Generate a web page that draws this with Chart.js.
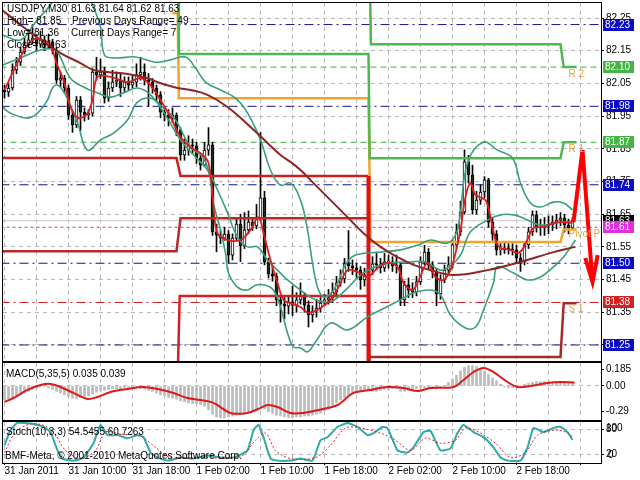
<!DOCTYPE html>
<html>
<head>
<meta charset="utf-8">
<title>USDJPY,M30</title>
<script src="https://cdn.jsdelivr.net/npm/chart.js@4.4.1/dist/chart.umd.min.js"></script>
<style>
  html, body { margin: 0; padding: 0; background: #fff; }
  #wrap { position: relative; width: 640px; height: 480px; overflow: hidden; }
  canvas { position: absolute; left: 0; }
  #priceChart { top: 0; }
  #macdChart { top: 362px; }
  #stochChart { top: 421px; }
</style>
</head>
<body>
<div id="wrap">
  <canvas id="priceChart" width="640" height="363"></canvas>
  <canvas id="macdChart" width="640" height="60"></canvas>
  <canvas id="stochChart" width="640" height="59"></canvas>
</div>
<script>
Chart.defaults.font.family = '"Liberation Sans", Arial, sans-serif';
Chart.defaults.font.size = 10;
Chart.defaults.color = '#000';

// ---- data (bar index = one 30 minute candle) ----
const timeLabels = ['31 Jan 2011', '31 Jan 10:00', '31 Jan 18:00', '1 Feb 02:00', '1 Feb 10:00',
  '1 Feb 18:00', '2 Feb 02:00', '2 Feb 10:00', '2 Feb 18:00'];
const xGrid = [0, 8, 16, 24, 32, 40, 48, 56, 64, 72, 80, 88, 96, 104, 112, 120, 128, 136, 144];
const priceTicks = [82.25, 82.15, 82.05, 81.95, 81.85, 81.75, 81.65, 81.55, 81.45, 81.35, 81.25];

const opens = [82.030,82.024,82.036,82.091,82.115,82.146,82.167,82.183,82.189,82.170,
  82.183,82.167,82.177,82.152,82.060,82.066,82.036,81.953,81.923,81.999,
  81.962,81.953,81.959,82.085,82.076,82.085,82.005,82.036,82.054,82.060,
  82.036,82.054,82.045,82.054,82.076,82.085,82.060,82.054,82.036,82.015,
  81.962,81.953,81.944,81.953,81.908,81.831,81.846,81.862,81.859,81.822,
  81.800,81.846,81.862,81.596,81.586,81.577,81.589,81.525,81.577,81.620,
  81.553,81.602,81.626,81.614,81.638,81.700,81.504,81.467,81.461,81.388,
  81.375,81.369,81.382,81.372,81.388,81.403,81.372,81.342,81.354,81.363,
  81.378,81.388,81.394,81.412,81.440,81.452,81.498,81.492,81.486,81.479,
  81.449,81.464,81.479,81.498,81.495,81.486,81.504,81.504,81.492,81.495,
  81.388,81.434,81.418,81.412,81.443,81.504,81.534,81.495,81.473,81.406,
  81.449,81.479,81.495,81.556,81.596,81.657,81.810,81.770,81.663,81.693,
  81.718,81.755,81.626,81.589,81.541,81.541,81.547,81.544,81.541,81.516,
  81.504,81.556,81.596,81.648,81.608,81.608,81.614,81.617,81.626,81.632,
  81.638,81.617,81.608];
const highs = [82.045,82.050,82.110,82.130,82.160,82.190,82.215,82.230,82.200,82.210,
  82.195,82.200,82.185,82.160,82.085,82.075,82.045,81.965,82.010,82.010,
  81.975,81.970,82.095,82.130,82.125,82.100,82.055,82.090,82.085,82.080,
  82.070,82.070,82.075,82.110,82.130,82.110,82.080,82.065,82.045,82.025,
  81.980,81.970,81.975,81.960,81.915,81.880,81.890,81.880,81.870,81.830,
  81.870,81.915,81.870,81.620,81.600,81.610,81.600,81.590,81.640,81.650,
  81.655,81.660,81.640,81.680,81.900,81.720,81.515,81.490,81.470,81.400,
  81.395,81.400,81.430,81.410,81.440,81.410,81.385,81.370,81.390,81.395,
  81.405,81.420,81.440,81.460,81.480,81.515,81.600,81.510,81.500,81.490,
  81.485,81.500,81.520,81.530,81.515,81.530,81.525,81.520,81.525,81.500,
  81.445,81.455,81.440,81.460,81.520,81.555,81.545,81.505,81.485,81.465,
  81.495,81.520,81.570,81.620,81.690,81.847,81.830,81.800,81.720,81.740,
  81.765,81.760,81.640,81.600,81.560,81.565,81.560,81.560,81.555,81.530,
  81.565,81.610,81.660,81.660,81.635,81.640,81.645,81.645,81.650,81.655,
  81.650,81.635,81.640];
const lows = [82.005,82.010,82.030,82.080,82.105,82.140,82.160,82.170,82.150,82.160,
  82.150,82.155,82.140,82.050,82.040,82.020,81.940,81.900,81.915,81.905,
  81.935,81.940,81.950,82.060,82.065,81.990,81.995,82.025,82.040,82.010,
  82.025,82.030,82.035,82.040,82.060,82.045,81.980,82.020,81.995,81.945,
  81.935,81.920,81.930,81.890,81.815,81.815,81.830,81.835,81.805,81.785,
  81.795,81.830,81.585,81.535,81.560,81.570,81.500,81.510,81.570,81.505,
  81.545,81.590,81.600,81.605,81.630,81.495,81.455,81.445,81.370,81.320,
  81.330,81.345,81.340,81.350,81.375,81.350,81.305,81.320,81.335,81.350,
  81.370,81.375,81.380,81.400,81.430,81.440,81.475,81.465,81.455,81.420,
  81.430,81.450,81.465,81.480,81.470,81.475,81.485,81.475,81.470,81.370,
  81.370,81.395,81.395,81.400,81.435,81.495,81.480,81.455,81.370,81.390,
  81.440,81.470,81.485,81.545,81.585,81.650,81.745,81.650,81.650,81.680,
  81.700,81.610,81.570,81.525,81.525,81.530,81.528,81.525,81.500,81.475,
  81.495,81.545,81.585,81.595,81.585,81.585,81.590,81.600,81.605,81.615,
  81.595,81.590,81.605];
const closes = [82.024,82.036,82.091,82.115,82.146,82.167,82.183,82.189,82.170,82.183,
  82.167,82.177,82.152,82.060,82.066,82.036,81.953,81.923,81.999,81.962,
  81.953,81.959,82.085,82.076,82.085,82.005,82.036,82.054,82.060,82.036,
  82.054,82.045,82.054,82.076,82.085,82.060,82.054,82.036,82.015,81.962,
  81.953,81.944,81.953,81.908,81.831,81.846,81.862,81.859,81.822,81.800,
  81.846,81.862,81.596,81.586,81.577,81.589,81.525,81.577,81.620,81.553,
  81.602,81.626,81.614,81.638,81.700,81.504,81.467,81.461,81.388,81.375,
  81.369,81.382,81.372,81.388,81.403,81.372,81.342,81.354,81.363,81.378,
  81.388,81.394,81.412,81.440,81.452,81.498,81.492,81.486,81.479,81.449,
  81.464,81.479,81.498,81.495,81.486,81.504,81.504,81.492,81.495,81.388,
  81.434,81.418,81.412,81.443,81.504,81.534,81.495,81.473,81.406,81.449,
  81.479,81.495,81.556,81.596,81.657,81.810,81.770,81.663,81.693,81.718,
  81.755,81.626,81.589,81.541,81.541,81.547,81.544,81.541,81.516,81.504,
  81.556,81.596,81.648,81.608,81.608,81.614,81.617,81.626,81.632,81.638,
  81.617,81.608,81.632];

// moving averages and bollinger bands, [bar, price]
const fastMA = [[0,82.030],[4,82.131],[7,82.183],[11,82.174],[13,82.112],[15,82.051],[16.5,81.978],
  [18.5,81.944],[20.75,81.959],[22,81.999],[23.25,82.070],[26.5,82.070],[30.75,82.054],[34,82.066],
  [36.5,82.045],[39,81.999],[41.5,81.947],[44,81.886],[46.5,81.855],[49,81.837],[51,81.807],
  [52.25,81.672],[53.25,81.592],[55.75,81.571],[59,81.571],[61.5,81.602],[63.5,81.641],[64.75,81.592],
  [66.5,81.510],[68.25,81.440],[69.75,81.388],[71.5,81.378],[74,81.366],[76,81.348],[79,81.363],
  [81.5,81.388],[83.5,81.427],[85.75,81.479],[88.25,81.473],[90.75,81.458],[93.25,81.485],
  [95.75,81.501],[98.25,81.489],[99.75,81.440],[102,81.418],[103.25,81.440],[105.75,81.501],
  [107.75,81.458],[109.75,81.449],[111.5,81.479],[112.75,81.531],[114,81.602],[115.25,81.703],
  [116.5,81.745],[117.75,81.709],[120.25,81.693],[121.5,81.641],[122.75,81.571],[124,81.547],
  [126.5,81.541],[128.25,81.531],[129.75,81.547],[131,81.580],[132.25,81.608],[134.75,81.611],
  [137.25,81.623],[139.75,81.626],[142,81.623]];
const slowMA = [[-0.5,82.274],[4,82.229],[9,82.183],[14,82.143],[19,82.112],[22.25,82.091],[25.75,82.085],
  [30.75,82.079],[35.75,82.066],[38.25,82.054],[43.25,82.036],[46.5,82.030],[50.75,82.015],
  [55.75,81.978],[61.5,81.917],[65.75,81.868],[69,81.831],[71.5,81.810],[74,81.785],[77.25,81.745],
  [81.5,81.693],[85.75,81.641],[89.75,81.592],[94,81.550],[98.25,81.519],[102.25,81.495],
  [106.5,81.479],[112.25,81.464],[120.75,81.479],[129,81.504],[137.25,81.534],[142.75,81.550]];
const bandUpper = [[-0.5,82.198],[4,82.183],[7.75,82.238],[11.5,82.290],[14,82.336],[20.25,82.336],
  [22,82.290],[24,82.222],[25,82.137],[27.75,82.128],[32.75,82.131],[37.75,82.115],[41.5,82.122],
  [45.25,82.131],[47.75,82.097],[50.25,82.054],[54,82.030],[57.75,82.005],[60.75,81.960],[64,81.877],
  [66.5,81.785],[69,81.739],[71.5,81.745],[74,81.693],[75.75,81.602],[77,81.501],[78.5,81.418],
  [80.25,81.397],[82.75,81.427],[85.25,81.495],[87.75,81.525],[94,81.534],[99,81.541],[103.5,81.556],
  [106.5,81.571],[110.75,81.562],[113.25,81.602],[115.75,81.807],[119.75,81.871],[123.25,81.846],
  [127,81.822],[129,81.745],[131.5,81.684],[134,81.672],[137.25,81.687],[139.75,81.684],[142,81.663]];
const bandMiddle = [[-0.5,82.106],[4,82.128],[9,82.152],[12.75,82.152],[16.5,82.066],[20.25,82.036],
  [23.25,82.021],[26.5,82.008],[29.75,82.021],[33.25,82.036],[36.5,82.015],[40.25,81.953],[44,81.877],
  [47.75,81.825],[50.75,81.785],[53.25,81.724],[55.75,81.654],[58.25,81.580],[60.75,81.550],
  [63.25,81.550],[65.75,81.510],[68.25,81.479],[70.75,81.449],[74,81.418],[77.75,81.388],[81.5,81.382],
  [85.25,81.418],[89,81.464],[92.75,81.489],[96.5,81.501],[101.5,81.504],[105.25,81.504],[109,81.479],
  [111.5,81.492],[114,81.525],[116.5,81.596],[120.75,81.632],[124,81.648],[127.25,81.648],
  [129.75,81.638],[134,81.617],[139,81.626],[142,81.626]];
const bandLower = [[-0.5,81.978],[1.5,81.959],[5.75,81.944],[8.25,81.959],[10.75,81.999],[12,82.036],
  [13.25,82.045],[15.25,82.015],[18.25,81.929],[20.75,81.846],[24,81.877],[27.25,81.898],[30.75,81.938],
  [33.25,81.993],[36.5,82.005],[39,81.984],[42.75,81.938],[46.5,81.855],[49.75,81.822],[51.5,81.755],
  [52.25,81.684],[54,81.602],[55.25,81.531],[56,81.470],[58.25,81.427],[60.75,81.418],[62.75,81.433],
  [65.25,81.433],[67.25,81.418],[69,81.366],[70.75,81.287],[72.25,81.244],[74,81.241],[75.75,81.229],
  [77.75,81.259],[81.5,81.317],[85.75,81.296],[90.75,81.336],[94,81.357],[99,81.388],[102.25,81.409],
  [106.5,81.418],[109,81.403],[111.5,81.342],[115.25,81.302],[117.75,81.305],[119.75,81.357],
  [122.25,81.440],[123.25,81.489],[127.25,81.470],[130.75,81.449],[134,81.458],[137.25,81.489],
  [139.75,81.519],[142.75,81.571]];

// daily pivot steps, [bar, price]
const pivotR2 = [[91.3,82.40],[91.6,82.170],[139,82.170],[139.8,82.100],[143,82.100]];
const pivotR1 = [[43.4,82.40],[43.6,82.140],[91,82.140],[91.3,81.821],[139,81.821],[139.8,81.870],[143,81.870]];
const pivotP = [[42,82.265],[43.3,82.265],[43.6,82.005],[91,82.005],[91.5,81.565],[139,81.565],[139.8,81.603],[143,81.603]];
const pivotS1 = [[-1,81.822],[43,81.822],[44,81.767],[91,81.767]];
const pivotS2 = [[-1,81.537],[43,81.537],[44,81.638],[91,81.638],[91.2,81.15]];
const pivotS3 = [[43.3,81.15],[43.8,81.400],[91,81.400],[91.2,81.15]];
const pivotS1New = [[91,81.767],[91,81.15]];
const pivotS1Next = [[91.3,81.213],[139,81.213],[139.8,81.378],[143,81.378]];

// horizontal levels
const blueLevels = [82.23, 81.98, 81.74, 81.50, 81.25];
const greenLevels = [82.10, 81.87];
const pivotLevels = [81.61];
const supportLevels = [81.38];
const bidPrice = 81.63;
const levelNames = ['R 2', 'R 1', 'Pivot P', 'S 1'];
const levelNameValues = [82.10, 81.87, 81.61, 81.38];

// hand-drawn forecast arrow, [bar, price]
const arrowPath = [[142.25,81.626],[144.5,81.846],[147,81.443]];
const arrowHead = [[145.2,81.516],[147,81.443],[148.3,81.525]];

// MACD(5,35,5)
const macdHist = [-0.16,-0.15,-0.14,-0.12,-0.10,-0.08,-0.06,-0.04,-0.02,-0.01,
  -0.01,-0.02,-0.04,-0.06,-0.08,-0.10,-0.12,-0.14,-0.14,-0.13,
  -0.12,-0.11,-0.09,-0.07,-0.06,-0.05,-0.04,-0.03,-0.03,-0.03,
  -0.02,-0.02,-0.02,-0.02,-0.03,-0.04,-0.05,-0.06,-0.08,-0.10,
  -0.11,-0.13,-0.14,-0.15,-0.17,-0.18,-0.19,-0.20,-0.20,-0.21,
  -0.23,-0.27,-0.32,-0.35,-0.36,-0.36,-0.35,-0.34,-0.33,-0.32,
  -0.31,-0.30,-0.28,-0.26,-0.22,-0.26,-0.29,-0.31,-0.33,-0.34,
  -0.35,-0.36,-0.36,-0.35,-0.35,-0.34,-0.34,-0.33,-0.32,-0.31,
  -0.28,-0.25,-0.22,-0.19,-0.16,-0.13,-0.10,-0.08,-0.07,-0.06,
  -0.05,-0.05,-0.06,-0.06,-0.05,-0.04,-0.04,-0.03,-0.03,-0.06,
  -0.06,-0.05,-0.04,-0.03,-0.02,-0.02,-0.02,-0.03,-0.03,-0.02,
  0.00,0.04,0.08,0.12,0.17,0.21,0.23,0.23,0.22,0.20,
  0.17,0.13,0.09,0.06,0.02,-0.01,-0.02,-0.02,-0.01,0.00,
  0.02,0.03,0.04,0.05,0.05,0.05,0.05,0.04,0.04,0.04,
  0.04,0.035,0.035];
const macdSignal = [[0,-0.181],[2.25,-0.136],[5.75,-0.045],[9,0.011],[11.5,0.023],[14,-0.011],
  [17.25,-0.079],[20.75,-0.147],[23.25,-0.124],[26.5,-0.068],[30.75,-0.034],[34.75,-0.011],
  [38.25,-0.034],[42.25,-0.079],[45.75,-0.136],[49,-0.158],[52.25,-0.192],[56.5,-0.305],
  [60.75,-0.305],[64,-0.249],[65.75,-0.215],[68.25,-0.238],[71.5,-0.305],[74.75,-0.305],
  [78.5,-0.271],[83.25,-0.215],[87.25,-0.079],[91.5,-0.045],[95.75,-0.011],[99.75,-0.023],
  [103.25,-0.057],[106.5,-0.023],[112.25,-0.011],[114.75,0.068],[117.25,0.158],[119.75,0.204],
  [122.25,0.158],[125.75,0.045],[128.25,-0.011],[131.5,0.000],[135.75,0.034],[139,0.045],[142.5,0.039]];
const macdTicks = [0.185, 0, -0.29];

// Stochastic(10,3,3)
const stochMain = [[0,41.6],[1.5,77.6],[3.25,94.4],[7.25,92],[9.75,84.8],[11.5,72.8],[13.25,29.6],
  [14.5,10.4],[17.25,5.6],[19.75,12.8],[22.25,46.4],[24,89.6],[25.75,65.6],[28.25,65.6],[30.75,58.4],
  [33.25,65.6],[34.75,60.8],[36.5,24.8],[38.25,12.8],[40.75,5.6],[44,12.8],[47.25,10.4],[50.75,17.6],
  [54,12.8],[57.25,12.8],[60.75,29.6],[62.25,77.6],[63.5,89.6],[64.75,60.8],[66.5,10.4],[68.25,5.6],
  [71.5,5.6],[74,10.4],[77,5.6],[79,53.6],[80.75,60.8],[83.25,84.8],[85.75,94.4],[88.25,84.8],
  [90.75,65.6],[92.25,70.4],[94.5,84.8],[95.75,82.4],[98.25,29.6],[100.75,24.8],[102.25,36.8],
  [104.75,72.8],[106.5,75.2],[109,29.6],[111.5,34.4],[113.25,70.4],[114.75,89.6],[117.25,72.8],
  [119.75,60.8],[122.25,36.8],[124,12.8],[125.75,5.6],[129,5.6],[130.75,36.8],[132.25,82.4],
  [134.75,72.8],[137.25,82.4],[139,84.8],[140.75,72.8],[142,54.5]];
const stochSignal = [[0,24.8],[2.75,72.8],[6.5,92],[10.25,87],[12.75,65.6],[15.25,29.6],[19,10.4],
  [22.75,29.6],[25.25,72.8],[29,68],[34,63],[37.75,36.8],[41.5,12.8],[49,12.8],[59,15],[62.75,53.6],
  [65.25,70.4],[67.75,29.6],[71.5,10.4],[77.75,12.8],[81.5,41.6],[85.25,82.4],[89,82.4],[94,70.4],
  [97.75,53.6],[101.5,29.6],[105.25,58.4],[109,46.4],[112.75,53.6],[115.25,82.4],[119,70.4],
  [122.75,46.4],[126.5,12.8],[130.25,24.8],[133.25,65.6],[137.75,77.6],[141,70.4],[142,60.7]];
const stochTicks = [80, 20];

// ---- helpers ----
const FONT = '10px "Liberation Sans", Arial, sans-serif';
const GRID = '#b9b9b9';
const DASH = [4, 4];
const xy = list => list.map(([x, y]) => ({x, y}));
const lineSet = (list, color, width, extra) => Object.assign({
  type: 'line', data: xy(list), borderColor: color, borderWidth: width,
  pointRadius: 0, tension: 0, fill: false
}, extra || {});
const levelSet = (value, color, dash, width) => ({
  type: 'line', data: [{x: -1, y: value}, {x: 150, y: value}], borderColor: color,
  borderWidth: width || 1, borderDash: dash, pointRadius: 0, fill: false
});
const useTicks = list => scale => { scale.ticks = list.map(v => ({value: v})); };
const fitRight = scale => { scale.width = 39; scale.paddingTop = 0; scale.paddingBottom = 0; };

const xScale = (showLabels) => ({
  type: 'linear', min: -0.375, max: 149.125, offset: false,
  afterBuildTicks: useTicks(xGrid),
  afterFit: s => { s.height = showLabels ? 17 : 0; s.paddingLeft = 0; s.paddingRight = 0; },
  ticks: {
    display: showLabels, autoSkip: false, maxRotation: 0, minRotation: 0, align: 'start', padding: 0,
    callback: v => (v % 16 === 0 && timeLabels[v / 16]) ? timeLabels[v / 16] : ''
  },
  grid: {
    color: GRID, offset: false, drawTicks: showLabels, tickLength: 2,
    tickColor: c => (c.tick && c.tick.value % 16 === 0) ? '#000' : 'rgba(0,0,0,0)'
  },
  border: {display: false, dash: DASH}
});

const frame = {
  id: 'frame',
  afterDraw(chart) {
    const {ctx, chartArea: a} = chart;
    ctx.save();
    ctx.strokeStyle = '#000';
    ctx.lineWidth = 1;
    ctx.strokeRect(Math.round(a.left) - 0.5, Math.round(a.top) - 0.5,
      Math.round(a.right - a.left) + 1, Math.round(a.bottom - a.top) + 1);
    ctx.restore();
  }
};

const notes = (items) => ({
  id: 'notes',
  afterDraw(chart) {
    const ctx = chart.ctx;
    ctx.save();
    ctx.font = FONT;
    ctx.textBaseline = 'middle';
    items.forEach(([text, x, y, color]) => {
      ctx.fillStyle = color || '#000';
      ctx.fillText(text, x, y);
    });
    ctx.restore();
  }
});

const priceBoxes = {
  id: 'priceBoxes',
  afterDraw(chart) {
    const {ctx, scales: {x, y}, chartArea: a} = chart;
    ctx.save();
    ctx.font = FONT;
    ctx.textBaseline = 'middle';
    // pivot names inside the plot, just under their level
    ctx.beginPath();
    ctx.rect(a.left, a.top, a.right - a.left, a.bottom - a.top);
    ctx.clip();
    ctx.fillStyle = '#e8a33c';
    levelNames.forEach((name, i) => {
      ctx.fillText(name, x.getPixelForValue(141), y.getPixelForValue(levelNameValues[i]) + 7);
    });
    ctx.restore();

    ctx.save();
    ctx.font = FONT;
    ctx.textBaseline = 'middle';
    const box = (value, bg) => {
      const py = Math.round(y.getPixelForValue(value));
      ctx.fillStyle = bg;
      ctx.fillRect(603, py - 6, 31, 12);
      ctx.fillStyle = '#fff';
      ctx.fillText(value.toFixed(2), 605, py + 0.5);
    };
    box(bidPrice, '#000');
    blueLevels.forEach(v => box(v, '#0b0bc4'));
    greenLevels.forEach(v => box(v, '#45b545'));
    pivotLevels.forEach(v => box(v, '#e030e0'));
    supportLevels.forEach(v => box(v, '#d42020'));
    ctx.restore();
  }
};

const stochExtraLabels = {
  id: 'stochExtraLabels',
  afterDraw(chart) {
    const {ctx, scales: {y}} = chart;
    ctx.save();
    ctx.font = FONT;
    ctx.textBaseline = 'middle';
    ctx.fillStyle = '#000';
    ctx.fillText('100', 606, y.getPixelForValue(80) - 1);
    ctx.fillText('0', 608, y.getPixelForValue(20) + 1);
    ctx.restore();
  }
};

// ---- price chart ----
const navy = '#12128a';
const band = '#3b9f7c';
const priceDatasets = [
  lineSet(arrowPath, '#ff0000', 4),
  lineSet(arrowHead, '#ff0000', 4),
  lineSet(fastMA, '#e01c1c', 1.8, {tension: 0.35}),
  lineSet(slowMA, '#8e2424', 2, {tension: 0.4}),
  lineSet(bandUpper, band, 1.6, {tension: 0.4}),
  lineSet(bandMiddle, band, 1.6, {tension: 0.4}),
  lineSet(bandLower, band, 1.6, {tension: 0.4}),
  lineSet(pivotS1New, '#e01010', 4),
  lineSet(pivotR2, '#4db84d', 2.5),
  lineSet(pivotR1, '#4db84d', 2.5),
  lineSet(pivotP, '#f2a52a', 2.5),
  lineSet(pivotS1, '#cc2020', 2.5),
  lineSet(pivotS2, '#b82828', 2.5),
  lineSet(pivotS3, '#d42020', 2.5),
  lineSet(pivotS1Next, '#a52a2a', 2.5),
  {
    type: 'bar', grouped: false, barThickness: 3, minBarLength: 1,
    data: closes.map((c, i) => ({x: i, y: [opens[i], c]})),
    backgroundColor: closes.map((c, i) => c >= opens[i] ? '#ffffff' : '#1b2e1b'),
    borderColor: '#000', borderWidth: 1, borderSkipped: false
  },
  {
    type: 'bar', grouped: false, barThickness: 1,
    data: closes.map((c, i) => ({x: i, y: [lows[i], highs[i]]})),
    backgroundColor: '#000', borderWidth: 0
  },
  levelSet(bidPrice, '#c8c8c8', [], 1),
  ...blueLevels.map(v => levelSet(v, navy, [9, 4, 2, 4])),
  ...greenLevels.map(v => levelSet(v, '#3fae3f', [6, 4])),
  ...pivotLevels.map(v => levelSet(v, '#d22dd2', [3, 3])),
  ...supportLevels.map(v => levelSet(v, '#cc1f1f', [9, 4, 2, 4]))
];

new Chart(document.getElementById('priceChart'), {
  type: 'line',
  data: {datasets: priceDatasets},
  options: {
    responsive: false,
    animation: false,
    layout: {padding: {left: 3, top: 3, right: 0, bottom: 2}},
    plugins: {legend: {display: false}, tooltip: {enabled: false}},
    scales: {
      x: xScale(false),
      y: {
        type: 'linear', position: 'right', min: 81.201, max: 82.296, beginAtZero: false,
        afterBuildTicks: useTicks(priceTicks),
        afterFit: fitRight,
        ticks: {padding: 2, callback: v => v.toFixed(2)},
        grid: {color: GRID, tickColor: '#000', tickLength: 3},
        border: {display: false, dash: DASH}
      }
    }
  },
  plugins: [frame, priceBoxes, notes([
    ['USDJPY,M30', 7, 9], ['81.63 81.64 81.62 81.63', 71, 9],
    ['High= 81.85', 7, 21], ['Previous Days Range= 49', 72, 21],
    ['Low= 81.36', 7, 33], ['Current Days Range= 7', 71, 33],
    ['Close= 81.63', 7, 45]
  ])]
});

// ---- MACD ----
new Chart(document.getElementById('macdChart'), {
  type: 'line',
  data: {
    datasets: [
      lineSet(macdSignal, '#dd1a1a', 2, {tension: 0.35}),
      {
        type: 'bar', grouped: false, barThickness: 2,
        data: macdHist.map((v, i) => ({x: i, y: v})),
        backgroundColor: '#bcbcbc', borderWidth: 0
      }
    ]
  },
  options: {
    responsive: false,
    animation: false,
    layout: {padding: {left: 3, top: 1, right: 0, bottom: 2}},
    plugins: {legend: {display: false}, tooltip: {enabled: false}},
    scales: {
      x: xScale(false),
      y: {
        type: 'linear', position: 'right', min: -0.385, max: 0.26, beginAtZero: false,
        afterBuildTicks: useTicks(macdTicks),
        afterFit: fitRight,
        ticks: {padding: 2, callback: v => v === 0 ? '0.00' : String(v)},
        grid: {color: c => (c.tick && c.tick.value === 0) ? GRID : 'rgba(0,0,0,0)', tickColor: '#000', tickLength: 3},
        border: {display: false, dash: DASH}
      }
    }
  },
  plugins: [frame, notes([['MACD(5,35,5) 0.035 0.039', 6, 12]])]
});

// ---- Stochastic ----
new Chart(document.getElementById('stochChart'), {
  type: 'line',
  data: {
    datasets: [
      lineSet(stochSignal, '#e02020', 1, {borderDash: [2, 2], tension: 0.3}),
      lineSet(stochMain, '#32a8a8', 2, {tension: 0.15})
    ]
  },
  options: {
    responsive: false,
    animation: false,
    layout: {padding: {left: 3, top: 1, right: 0, bottom: 0}},
    plugins: {legend: {display: false}, tooltip: {enabled: false}},
    scales: {
      x: xScale(true),
      y: {
        type: 'linear', position: 'right', min: 0, max: 96.5, beginAtZero: false,
        afterBuildTicks: useTicks(stochTicks),
        afterFit: fitRight,
        ticks: {padding: 2},
        grid: {color: GRID, tickColor: '#000', tickLength: 3},
        border: {display: false, dash: DASH}
      }
    }
  },
  plugins: [frame, stochExtraLabels, notes([
    ['Stoch(10,3,3) 54.5455 60.7263', 6, 11],
    ['BMF-Meta, \u00a9 2001-2010 MetaQuotes Software Corp.', 5, 35]
  ])]
});
</script>
</body>
</html>
